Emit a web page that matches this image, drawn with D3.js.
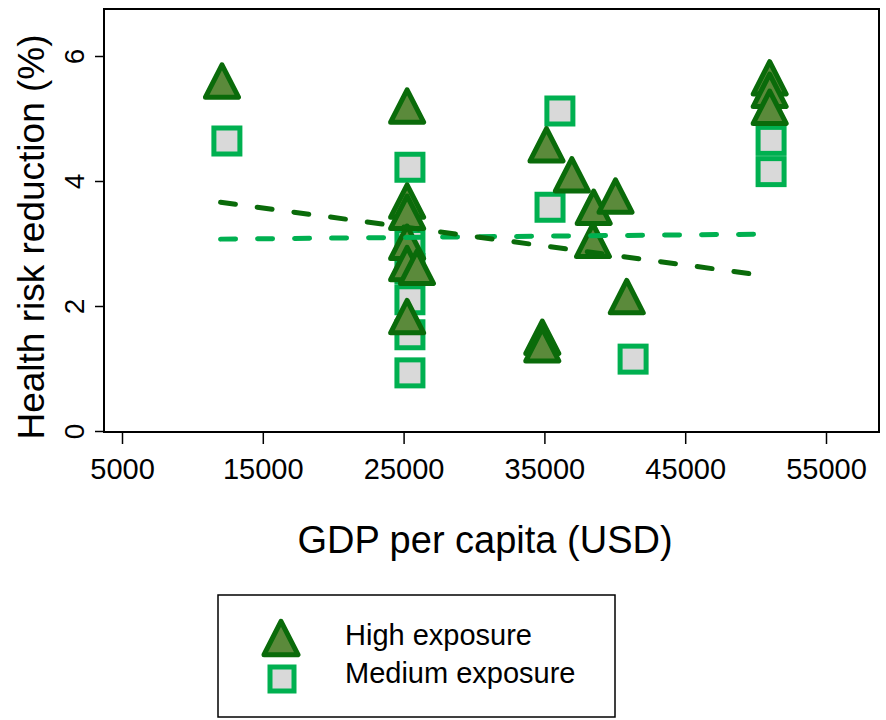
<!DOCTYPE html>
<html>
<head>
<meta charset="utf-8">
<script src="https://cdn.jsdelivr.net/npm/d3@7"></script>
<style>
  body { margin: 0; background: #fff; }
  text { font-family: "Liberation Sans", Arial, sans-serif; fill: #000; }
</style>
</head>
<body>
<div id="chart"></div>
<script>
// ---------- DATA ----------
const highGdp = [12100, 25250, 25250, 25250, 25250, 25250, 25950, 25250,
  35150, 36950, 38500, 40050, 38450, 40850, 34850, 34850, 51000, 51000, 51000];
const highRisk = [5.6, 5.2, 3.68, 3.5, 3.02, 2.68, 2.62, 1.83,
  4.58, 4.1, 3.58, 3.76, 3.05, 2.15, 1.5, 1.38, 5.65, 5.45, 5.18];

const medGdp = [12450, 25450, 25450, 25450, 25450, 25450, 25450,
  36100, 35400, 41300, 51100, 51100];
const medRisk = [4.64, 4.22, 3.0, 2.6, 2.1, 1.54, 0.93,
  5.12, 3.58, 1.15, 4.65, 4.15];

// linear fit end points
const fitGdp = [12000, 50800];
const fitHigh = [3.66, 2.48];
const fitMed = [3.07, 3.15];

const xTicks = [5000, 15000, 25000, 35000, 45000, 55000];
const yTicks = [0, 2, 4, 6];

// ---------- SVG ----------
const width = 886, height = 720;
const svg = d3.select('#chart').append('svg')
  .attr('width', width).attr('height', height);

const x = d3.scaleLinear().domain([5000, 55000]).range([122, 826]);
const y = d3.scaleLinear().domain([0, 6]).range([431, 56]);

const darkGreen = '#0a6b0a';
const olive = '#5b8a3b';
const lightGreen = '#00b050';
const grey = '#d9d9d9';

// frame
svg.append('rect')
  .attr('x', 104).attr('y', 9)
  .attr('width', 775).attr('height', 423)
  .attr('fill', 'none').attr('stroke', '#000').attr('stroke-width', 2);

// x axis
const xAxis = svg.append('g')
  .attr('transform', 'translate(0,432)')
  .call(d3.axisBottom(x).tickValues(xTicks).tickSize(12).tickPadding(14).tickFormat(d3.format('d')));
xAxis.select('.domain').remove();
xAxis.selectAll('line').attr('stroke', '#000').attr('stroke-width', 1.5);
xAxis.selectAll('text')
  .style('font-family', '"Liberation Sans", Arial, sans-serif')
  .style('font-size', '29px');

// y axis (labels vertical like Stata)
const yAxis = svg.append('g')
  .attr('transform', 'translate(104,0)')
  .call(d3.axisLeft(y).tickValues(yTicks).tickSize(9).tickFormat(d3.format('d')));
yAxis.select('.domain').remove();
yAxis.selectAll('line').attr('stroke', '#000').attr('stroke-width', 1.5);
yAxis.selectAll('text')
  .style('font-family', '"Liberation Sans", Arial, sans-serif')
  .style('font-size', '28px')
  .attr('x', null).attr('dy', null)
  .attr('text-anchor', 'middle')
  .attr('transform', 'translate(-20,0) rotate(-90)');

// axis titles
svg.append('text')
  .attr('transform', 'translate(44,237) rotate(-90)')
  .attr('text-anchor', 'middle')
  .style('font-size', '37px')
  .text('Health risk reduction (%)');

svg.append('text')
  .attr('x', 485).attr('y', 553)
  .attr('text-anchor', 'middle')
  .style('font-size', '38px')
  .text('GDP per capita (USD)');

// ---------- MARKERS ----------
function triPath(s) {
  const h = s * 0.98;
  return `M0,${-h / 2}L${s / 2},${h / 2}L${-s / 2},${h / 2}Z`;
}

const medData = medGdp.map((g, i) => ({ gdp: g, risk: medRisk[i] }));
const highData = highGdp.map((g, i) => ({ gdp: g, risk: highRisk[i] }));

svg.append('g').selectAll('rect')
  .data(medData).enter()
  .append('rect')
  .attr('x', d => x(d.gdp) - 13)
  .attr('y', d => y(d.risk) - 13)
  .attr('width', 26).attr('height', 26)
  .attr('fill', grey)
  .attr('stroke', lightGreen).attr('stroke-width', 5);

svg.append('g').selectAll('path')
  .data(highData).enter()
  .append('path')
  .attr('transform', d => `translate(${x(d.gdp)},${y(d.risk)})`)
  .attr('d', triPath(33))
  .attr('fill', olive)
  .attr('stroke', darkGreen).attr('stroke-width', 5)
  .attr('stroke-linejoin', 'round');

// ---------- FIT LINES ----------
const line = d3.line().x(d => x(d[0])).y(d => y(d[1]));

svg.append('path')
  .attr('d', line(fitGdp.map((g, i) => [g, fitMed[i]])))
  .attr('fill', 'none').attr('stroke', lightGreen)
  .attr('stroke-width', 5).attr('stroke-linecap', 'round')
  .attr('stroke-dasharray', '15,22');

svg.append('path')
  .attr('d', line(fitGdp.map((g, i) => [g, fitHigh[i]])))
  .attr('fill', 'none').attr('stroke', darkGreen)
  .attr('stroke-width', 5).attr('stroke-linecap', 'round')
  .attr('stroke-dasharray', '15,22');

// ---------- LEGEND ----------
const legend = svg.append('g');
legend.append('rect')
  .attr('x', 218).attr('y', 595)
  .attr('width', 397).attr('height', 122)
  .attr('fill', 'none').attr('stroke', '#000').attr('stroke-width', 1.5);

legend.append('path')
  .attr('transform', 'translate(281,638)')
  .attr('d', triPath(34))
  .attr('fill', olive)
  .attr('stroke', darkGreen).attr('stroke-width', 5)
  .attr('stroke-linejoin', 'round');

legend.append('rect')
  .attr('x', 282 - 12).attr('y', 679 - 12)
  .attr('width', 24).attr('height', 24)
  .attr('fill', grey)
  .attr('stroke', lightGreen).attr('stroke-width', 5);

legend.append('text')
  .attr('x', 345).attr('y', 645)
  .style('font-size', '29px')
  .text('High exposure');

legend.append('text')
  .attr('x', 345).attr('y', 683)
  .style('font-size', '29px')
  .text('Medium exposure');
</script>
</body>
</html>
